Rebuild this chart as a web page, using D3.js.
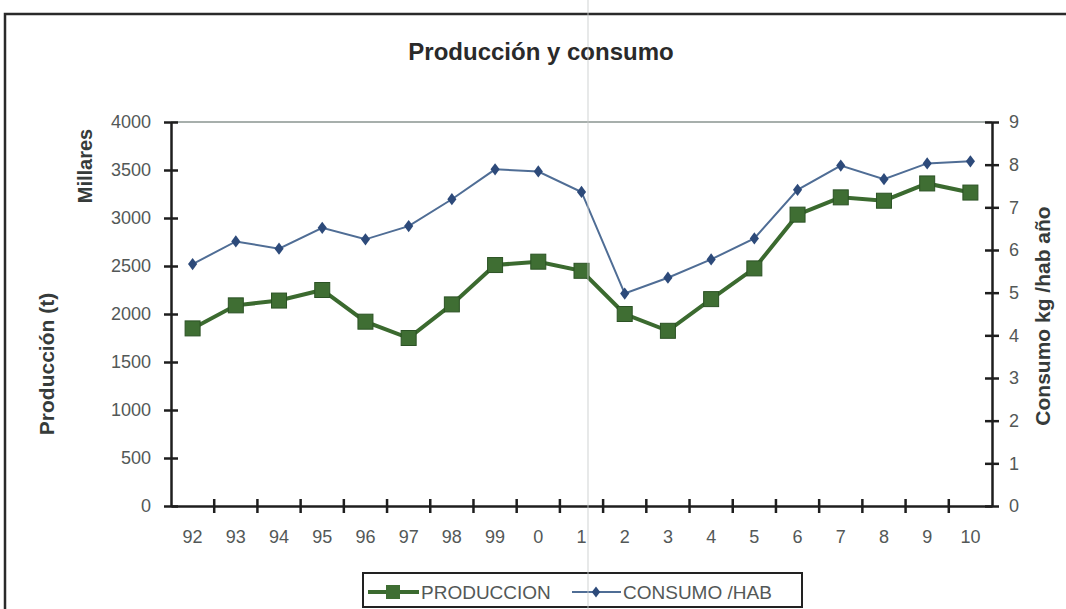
<!DOCTYPE html>
<html>
<head>
<meta charset="utf-8">
<script src="https://cdn.jsdelivr.net/npm/d3@7"></script>
<style>
  html, body { margin: 0; padding: 0; background: #fff; }
  svg { display: block; }
  text { font-family: "Liberation Sans", Arial, sans-serif; }
</style>
</head>
<body>
<svg id="chart" width="1066" height="609"></svg>
<script>
// Years on the category axis
const years = ["92","93","94","95","96","97","98","99","0","1","2","3","4","5","6","7","8","9","10"];
// Production, tonnes (thousands)
const produccion = [1850,2090,2140,2250,1920,1750,2100,2510,2545,2450,2000,1825,2155,2475,3035,3215,3180,3360,3265];
// Consumption, kg per inhabitant per year
const consumo = [5.67,6.20,6.03,6.52,6.25,6.56,7.19,7.89,7.84,7.36,4.98,5.35,5.78,6.27,7.41,7.98,7.66,8.03,8.08];
// Axis ticks
const leftTicks = [0,500,1000,1500,2000,2500,3000,3500,4000];
const rightTicks = [0,1,2,3,4,5,6,7,8,9];

const svg = d3.select("#chart");
const W = 1066, H = 609;
const plot = { left: 171, right: 992, top: 122, bottom: 506 };

const greenFill = "#3f6e33", greenLine = "#3b6a2f", greenEdge = "#2b5224";
const blueLine = "#4f6d95", blueMark = "#2d4a7a";
const labelGray = "#535857", axisDark = "#1e1e1e", titleGray = "#363b3a";
const fontFam = "Liberation Sans, Arial, sans-serif";

// page frame
svg.append("rect").attr("x", 5).attr("y", 14).attr("width", 1100).attr("height", 700)
  .attr("fill", "#fff").attr("stroke", "#2a2a2a").attr("stroke-width", 2.5);

const x = d3.scaleBand().domain(years).range([plot.left, plot.right]);
const yL = d3.scaleLinear().domain([0, 4000]).range([plot.bottom, plot.top]);
const yR = d3.scaleLinear().domain([0, 9]).range([plot.bottom, plot.top]);
const cx = d => x(d) + x.bandwidth() / 2;

// top gridline
svg.append("line").attr("x1", plot.left).attr("x2", plot.right)
  .attr("y1", yL(4000)).attr("y2", yL(4000))
  .attr("stroke", "#8a9490").attr("stroke-width", 1.5);

// title
svg.append("text").attr("x", 541).attr("y", 60).attr("text-anchor", "middle")
  .attr("font-size", 24).attr("font-weight", "bold").attr("fill", "#2a2a2a")
  .text("Producción y consumo");

// left axis
const leftAxis = svg.append("g").attr("transform", `translate(${plot.left},0)`)
  .call(d3.axisLeft(yL).tickValues(leftTicks).tickFormat(d3.format("d")).tickSize(0).tickPadding(20));
leftAxis.select(".domain").attr("stroke", axisDark).attr("stroke-width", 2.5);
leftAxis.selectAll(".tick text").attr("font-size", 18).attr("fill", labelGray)
  .attr("font-family", fontFam);
leftAxis.selectAll(".tick").append("line").attr("x1", -7).attr("x2", 7)
  .attr("stroke", axisDark).attr("stroke-width", 2.5);

// right axis
const rightAxis = svg.append("g").attr("transform", `translate(${plot.right},0)`)
  .call(d3.axisRight(yR).tickValues(rightTicks).tickFormat(d3.format("d")).tickSize(0).tickPadding(17));
rightAxis.select(".domain").attr("stroke", axisDark).attr("stroke-width", 2.5);
rightAxis.selectAll(".tick text").attr("font-size", 18).attr("fill", labelGray)
  .attr("font-family", fontFam);
rightAxis.selectAll(".tick").append("line").attr("x1", -7).attr("x2", 7)
  .attr("stroke", axisDark).attr("stroke-width", 2.5);

// bottom axis: labels centred on categories, ticks at category boundaries
const bottomAxis = svg.append("g").attr("transform", `translate(0,${plot.bottom})`)
  .call(d3.axisBottom(x).tickSize(0).tickPadding(24));
bottomAxis.select(".domain").attr("stroke", axisDark).attr("stroke-width", 2.5);
bottomAxis.selectAll(".tick text").attr("font-size", 18).attr("fill", labelGray)
  .attr("font-family", fontFam);
bottomAxis.selectAll(".bnd").data(years.slice(1)).enter().append("line")
  .attr("x1", d => x(d)).attr("x2", d => x(d)).attr("y1", -7).attr("y2", 7)
  .attr("stroke", axisDark).attr("stroke-width", 2.5);

// axis titles
svg.append("text").attr("transform", "translate(92,166) rotate(-90)")
  .attr("text-anchor", "middle").attr("font-size", 20).attr("font-weight", "bold")
  .attr("fill", titleGray).text("Millares");
svg.append("text").attr("transform", "translate(54,364) rotate(-90)")
  .attr("text-anchor", "middle").attr("font-size", 21).attr("font-weight", "bold")
  .attr("fill", titleGray).text("Producción (t)");
svg.append("text").attr("transform", "translate(1050,316) rotate(-90)")
  .attr("text-anchor", "middle").attr("font-size", 21).attr("font-weight", "bold")
  .attr("fill", titleGray).text("Consumo kg /hab año");

// consumption series (right axis)
const lineR = d3.line().x((d, i) => cx(years[i])).y(d => yR(d));
svg.append("path").datum(consumo).attr("d", lineR)
  .attr("fill", "none").attr("stroke", blueLine).attr("stroke-width", 2);
svg.selectAll(".diam").data(consumo).enter().append("path")
  .attr("d", d3.symbol(d3.symbolDiamond, 60))
  .attr("transform", (d, i) => `translate(${cx(years[i])},${yR(d)}) scale(1.1,0.85)`)
  .attr("fill", blueMark);

// production series (left axis)
const lineL = d3.line().x((d, i) => cx(years[i])).y(d => yL(d));
svg.append("path").datum(produccion).attr("d", lineL)
  .attr("fill", "none").attr("stroke", greenLine).attr("stroke-width", 4);
svg.selectAll(".sq").data(produccion).enter().append("rect")
  .attr("x", (d, i) => cx(years[i]) - 7.5).attr("y", d => yL(d) - 7.5)
  .attr("width", 15).attr("height", 15)
  .attr("fill", greenFill).attr("stroke", greenEdge).attr("stroke-width", 1);

// legend
const lg = svg.append("g");
lg.append("rect").attr("x", 363).attr("y", 573).attr("width", 439).attr("height", 34)
  .attr("fill", "#fff").attr("stroke", "#222").attr("stroke-width", 2);
lg.append("line").attr("x1", 368).attr("x2", 419).attr("y1", 592).attr("y2", 592)
  .attr("stroke", greenLine).attr("stroke-width", 4);
lg.append("rect").attr("x", 386).attr("y", 585).attr("width", 14).attr("height", 14)
  .attr("fill", greenFill);
lg.append("text").attr("x", 421).attr("y", 599).attr("font-size", 19)
  .attr("fill", labelGray).text("PRODUCCION");
lg.append("line").attr("x1", 572).attr("x2", 621).attr("y1", 592).attr("y2", 592)
  .attr("stroke", blueLine).attr("stroke-width", 2);
lg.append("path").attr("d", d3.symbol(d3.symbolDiamond, 50))
  .attr("transform", "translate(596,592) scale(1.1,0.85)").attr("fill", blueMark);
lg.append("text").attr("x", 623).attr("y", 599).attr("font-size", 19)
  .attr("fill", labelGray).text("CONSUMO /HAB");

// faint vertical fold across the sheet
svg.append("line").attr("x1", 588).attr("x2", 588).attr("y1", 0).attr("y2", H)
  .attr("stroke", "#c9cccb").attr("stroke-width", 1.2).attr("opacity", 0.7);
</script>
</body>
</html>
